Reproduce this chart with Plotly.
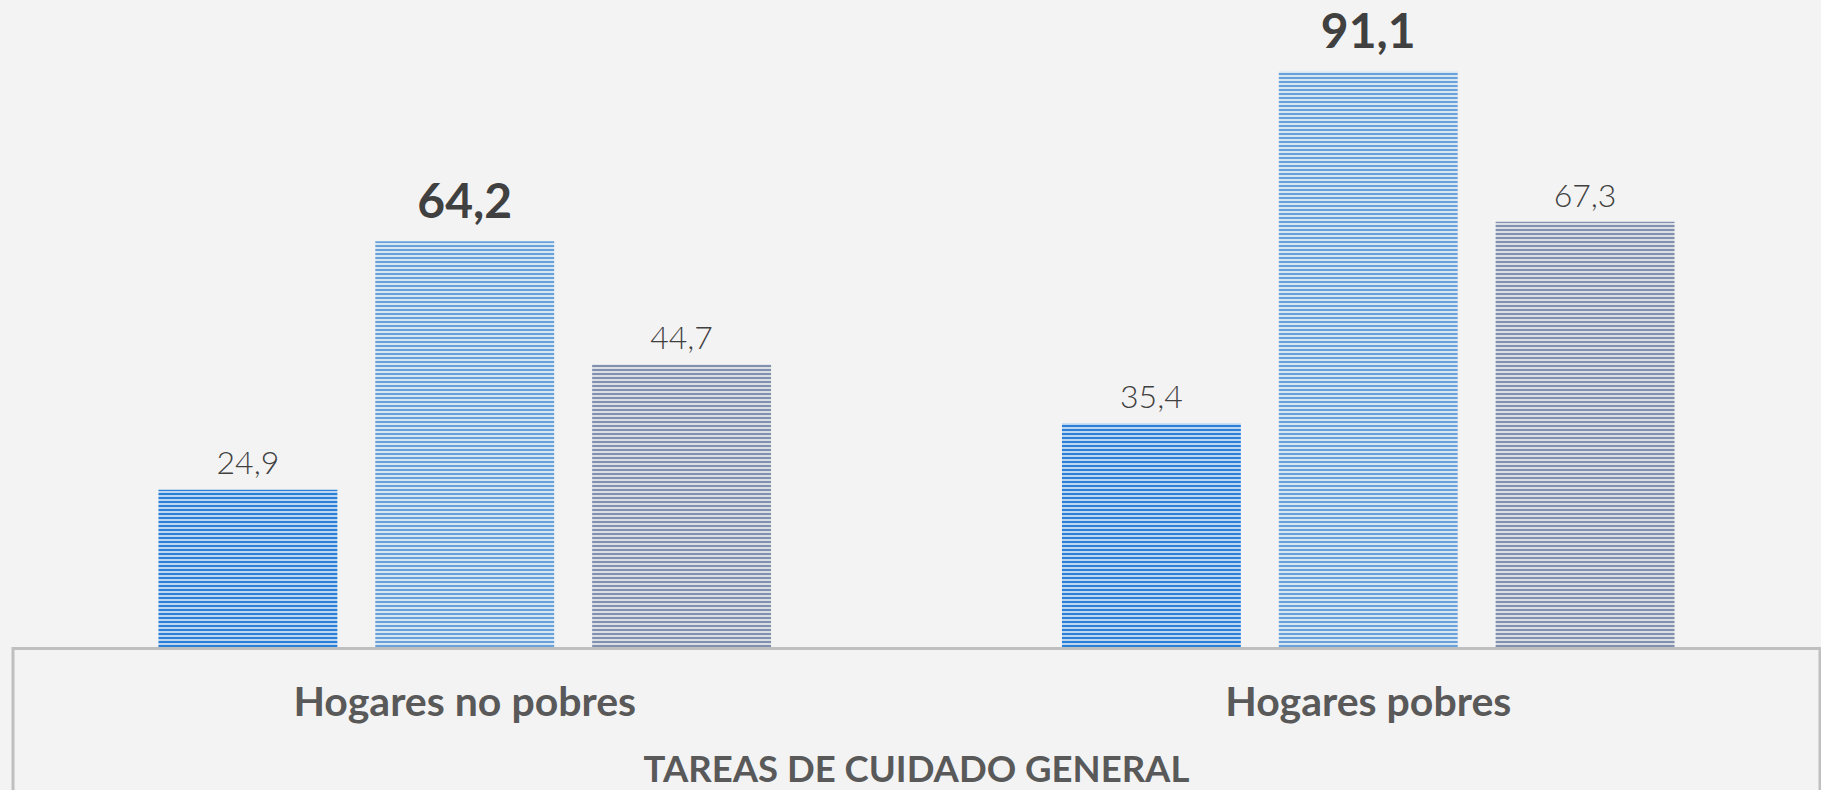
import plotly.graph_objects as go

categories = ["Hogares no pobres", "Hogares pobres"]
serie_a = [24.9, 35.4]
serie_b = [64.2, 91.1]
serie_c = [44.7, 67.3]
axis_title = "TAREAS DE CUIDADO GENERAL"

BG = "#f3f3f3"
FONT = "Lato, 'Century Gothic', sans-serif"

styles = [
    dict(vals=serie_a, fg="#2a80d8", bg="#cde0f3", size=32, weight=300, pad=10),
    dict(vals=serie_b, fg="#68a2d8", bg="#e6eef7", size=48, weight="bold", pad=16),
    dict(vals=serie_c, fg="#8190ad", bg="#e4e7ec", size=32, weight=300, pad=10),
]

fig = go.Figure()
for i, s in enumerate(styles):
    fig.add_trace(go.Bar(
        x=categories, y=s["vals"], offsetgroup=str(i),
        marker=dict(color=s["bg"], line=dict(width=0),
                    pattern=dict(shape="-", fgcolor=s["fg"], bgcolor=s["bg"], fgopacity=1,
                                 size=4, solidity=0.55, fillmode="overlay")),
        hoverinfo="skip",
    ))
for i, s in enumerate(styles):
    fig.add_trace(go.Scatter(
        x=categories, y=s["vals"], offsetgroup=str(i), mode="markers+text",
        marker=dict(size=s["pad"], color="rgba(0,0,0,0)"),
        texttemplate="%{y:.1f}", textposition="top center", cliponaxis=False,
        textfont=dict(family=FONT, size=s["size"], color="#404040", weight=s["weight"]),
        hoverinfo="skip",
    ))

fig.update_layout(
    width=1821, height=790,
    paper_bgcolor=BG, plot_bgcolor=BG,
    margin=dict(l=13, r=1, t=0, b=143),
    barmode="group", bargap=0.28, bargroupgap=0.175,
    scattermode="group", scattergap=0.28,
    separators=",.",
    showlegend=False,
    xaxis=dict(showline=True, linecolor="#bfbfbf", linewidth=3, ticks="",
               tickfont=dict(family=FONT, size=41, color="#595959", weight="bold"),
               ticklabelstandoff=17,
               title=dict(text=axis_title, standoff=35,
                          font=dict(family=FONT, size=36.5, color="#595959", weight="bold"))),
    yaxis=dict(range=[0, 102.4], visible=False, showgrid=False),
    shapes=[
        dict(type="line", xref="paper", yref="paper", x0=0, x1=0, y0=0, y1=-0.25,
             line=dict(color="#bfbfbf", width=3)),
        dict(type="line", xref="paper", yref="paper", x0=1, x1=1, y0=0, y1=-0.25,
             line=dict(color="#bfbfbf", width=3)),
    ],
)

fig.write_html("out.html", config={"displayModeBar": False},
               post_script="document.body.style.margin='0';document.body.style.overflow='hidden';")
